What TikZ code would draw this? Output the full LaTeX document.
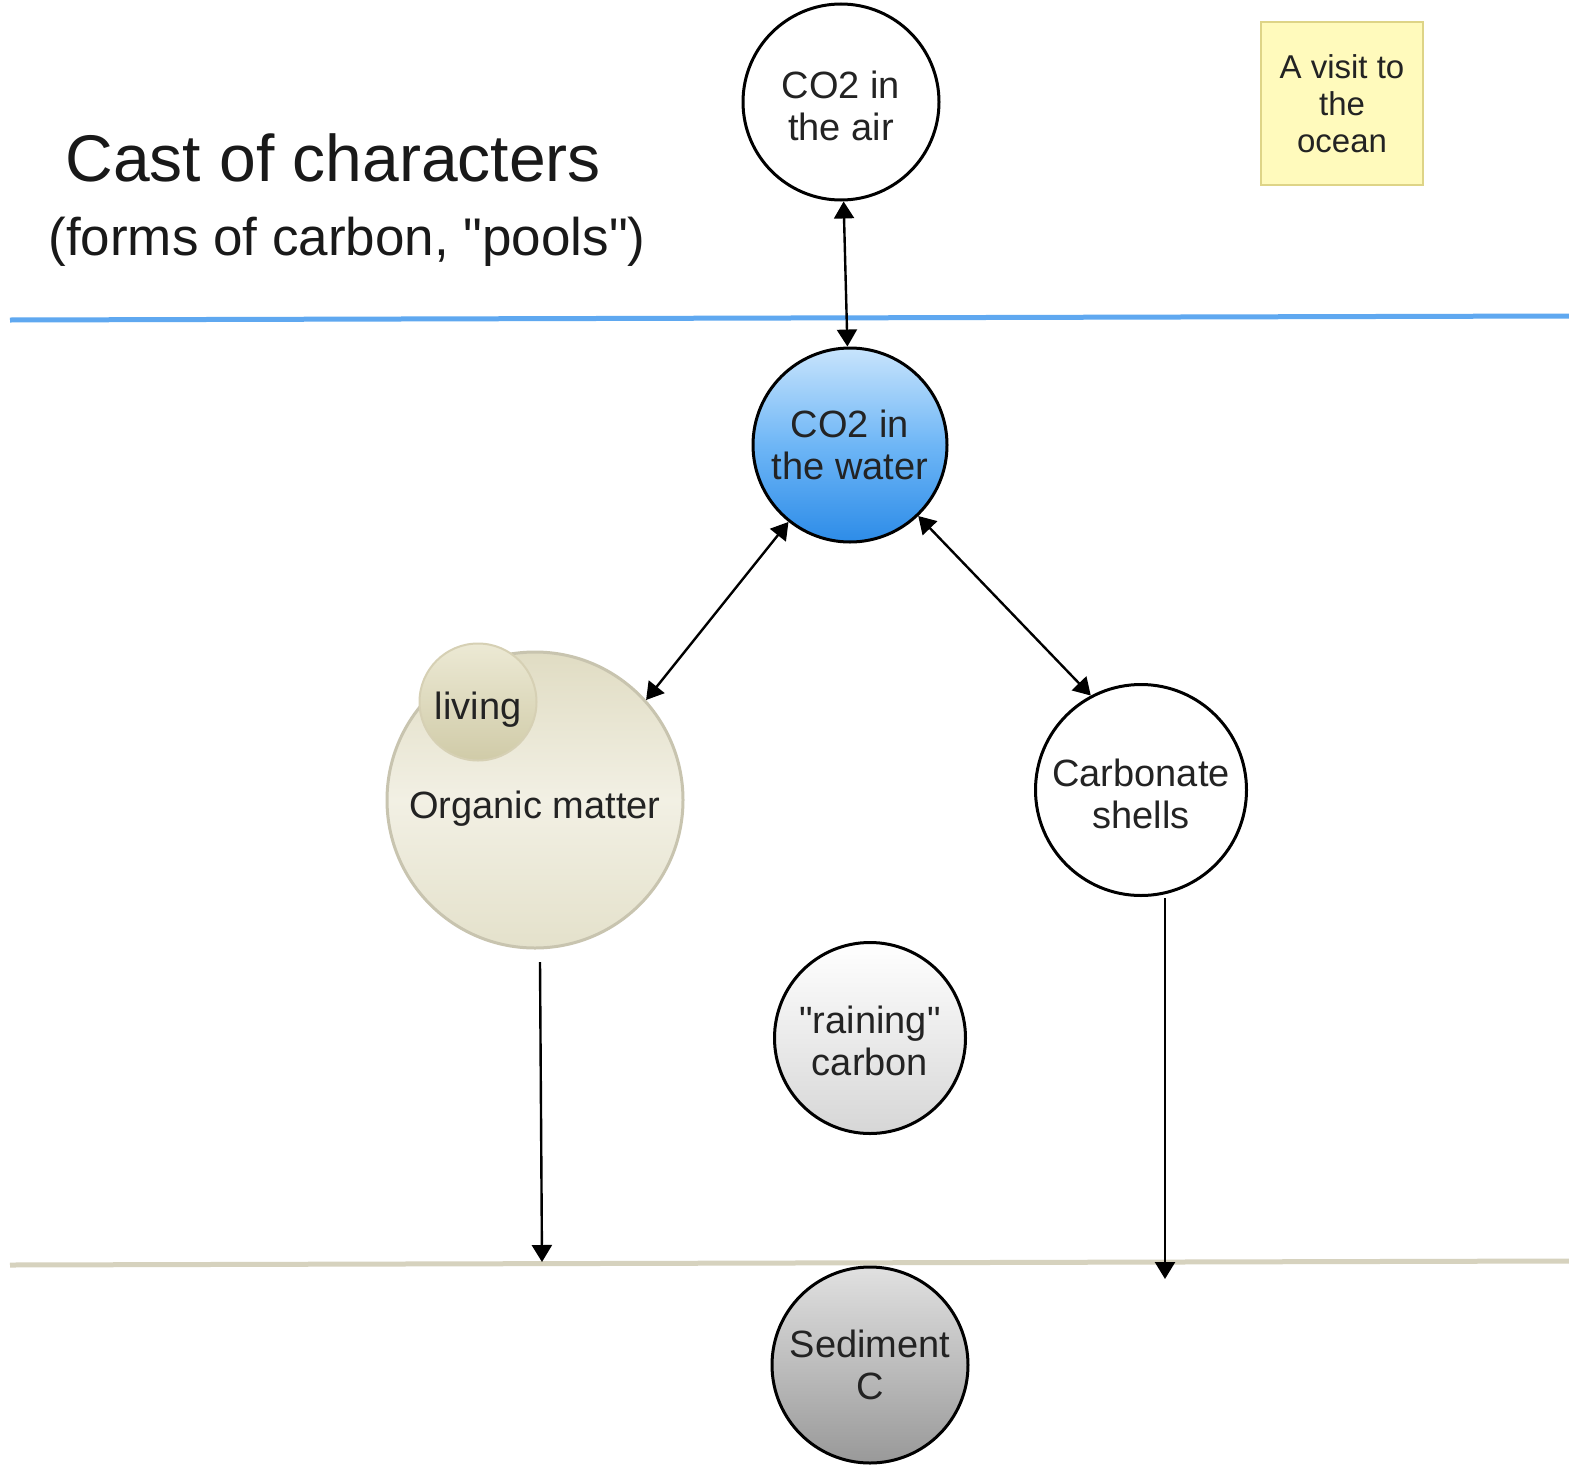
\documentclass[tikz,border=0pt]{standalone}
\usepackage{fontspec}
\setmainfont{Liberation Sans}
\usetikzlibrary{arrows.meta}
\definecolor{seablue}{RGB}{95,168,240}
\definecolor{seabed}{RGB}{214,210,190}
\definecolor{notefill}{RGB}{255,250,188}
\definecolor{notedraw}{RGB}{222,212,135}
\definecolor{wtop}{RGB}{200,228,252}
\definecolor{wmid}{RGB}{110,182,246}
\definecolor{wbot}{RGB}{45,140,232}
\definecolor{otop}{RGB}{224,220,195}
\definecolor{omid}{RGB}{242,240,228}
\definecolor{obot}{RGB}{228,225,203}
\definecolor{odraw}{RGB}{200,196,175}
\definecolor{ltop}{RGB}{236,233,212}
\definecolor{lbot}{RGB}{208,203,168}
\definecolor{ldraw}{RGB}{214,208,180}
\definecolor{txt}{RGB}{35,35,35}
\begin{document}
\begin{tikzpicture}[x=0.5pt,y=-0.5pt,
  pool/.style={circle, draw=black, line width=1.5pt, inner sep=0pt, align=center,
    text=txt, font=\fontsize{19}{21}\selectfont},
  notebox/.style={rectangle, draw=notedraw, fill=notefill, line width=1pt, align=center,
    inner sep=0pt, text=txt, font=\fontsize{16.5}{18.6}\selectfont},
  flowone/.style={line width=1.2pt, -{Triangle[length=8.5pt,width=10pt]}},
  flowtwo/.style={line width=1.2pt, {Triangle[length=8.5pt,width=10pt]}-{Triangle[length=8.5pt,width=10pt]}},
  title/.style={anchor=base west, inner sep=0pt, text=black!90}
]
\useasboundingbox (0,0) rectangle (1569,1467);
\fill[white] (0,0) rectangle (1569,1467);

% surface and sea floor
\draw[seablue, line width=2.5pt] (10,320) -- (1569,316);
\draw[seabed, line width=2.5pt] (10,1265) -- (1569,1261);

% titles
\node[title, font=\fontsize{33}{38}\selectfont] (t1) at (65,181) {Cast of characters};
\node[title, font=\fontsize{26.5}{30}\selectfont] (t2) at (48,255) {(forms of carbon, \textquotedbl pools\textquotedbl)};

% note
\node[notebox, minimum width=81pt, minimum height=81.5pt] (note) at (1342,103.5) {A visit to\\the\\ocean};

% pools
\node[pool, minimum size=98pt, fill=white] (air) at (841,102) {\\[-3pt]CO2 in\\the air};
\node[pool, minimum size=97pt, top color=wtop, bottom color=wbot, middle color=wmid] (water) at (850,445) {CO2 in\\the water};
\node[pool, minimum size=148pt, draw=odraw, top color=otop, bottom color=obot, middle color=omid] (organic) at (535,800) {\\[1pt]Organic matter};
\node[pool, minimum size=58.5pt, draw=ldraw, line width=1pt, top color=ltop, bottom color=lbot] (living) at (478,702) {\\[0pt]living};
\node[pool, minimum size=105.5pt, fill=white] (carb) at (1141,790) {\\[-3pt]Carbonate\\shells};
\node[pool, minimum size=95.5pt, top color=white, bottom color=black!16] (rain) at (870,1038) {\\[-4pt]\textquotedbl raining\textquotedbl\\carbon};
\node[pool, minimum size=98pt, top color=black!12, bottom color=black!40] (sed) at (870,1365) {Sediment\\C};

% flows
\draw[flowtwo] (air) -- (water);
\draw[flowtwo] (water) -- (organic.42);
\draw[flowtwo] (water) -- (carb.118);

\coordinate (ostart) at (540,962);
\coordinate (oend) at (542,1262);
\coordinate (cstart) at (1165,898);
\coordinate (cend) at (1165,1279);
\draw[flowone] (ostart) -- (oend);
\draw[flowone] (cstart) -- (cend);
\end{tikzpicture}
\end{document}
